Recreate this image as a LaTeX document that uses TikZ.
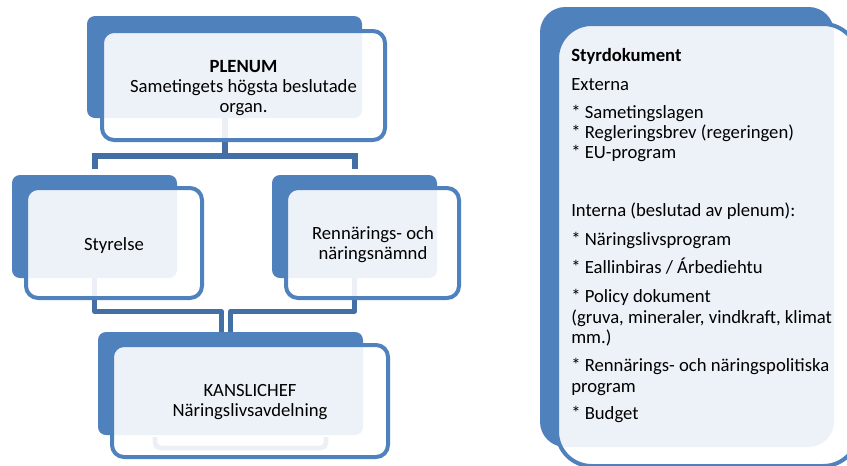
\documentclass[tikz,border=0pt]{standalone}
\usepackage{fontspec}
\setmainfont{Carlito}
\usetikzlibrary{fit}
\definecolor{boxblue}{RGB}{79,129,189}
\definecolor{connblue}{RGB}{68,111,165}
\begin{document}
\begin{tikzpicture}[x=0.75pt,y=-0.75pt,
  backbox/.style={fill=boxblue, draw=none, rounded corners=6pt, inner sep=0pt},
  frontbox/.style={fill=white, fill opacity=0.9, text opacity=1, draw=boxblue, draw opacity=1, line width=3pt, rounded corners=9pt, inner sep=0pt},
  boxtext/.style={font=\fontsize{14}{15}\selectfont, align=center, text=black, inner sep=0pt},
  listtext/.style={font=\fontsize{14}{15}\selectfont, anchor=base west, text=black, inner sep=0pt},
  connA/.style={draw=connblue, line width=4.5pt},
  connB/.style={draw=connblue, line width=3.6pt},
]
\clip (0,0) rectangle (847,465);
\fill[white] (0,0) rectangle (847,465);

% back boxes
\node[backbox, fit={(87,16) (362,118)}] (pb) {};
\node[backbox, fit={(12,175) (177,278)}] (sb) {};
\node[backbox, fit={(272,175) (437,278)}] (rb) {};
\node[backbox, fit={(98,332) (363,435)}] (kb) {};
\node[backbox, rounded corners=19pt, fit={(540,7) (834,447)}] (db) {};

% connectors
\draw[connA] (pb.south) -- ++(0,38);
\draw[connA] ([yshift=4pt]sb.north) -- ++(0,-13.7) -| ([yshift=4pt]rb.north);
\draw[connB, line join=round] (sb.south) -- ++(0,33) -| ([xshift=-7pt]kb.north);
\draw[connB, line join=round] (rb.south) -- ++(0,33) -| (kb.north);
\coordinate (kbl) at (155,437);
\coordinate (kbr) at (326,437);
\draw[connB, rounded corners=4pt] (kbl) -- ++(0,11) -| (kbr);

% front boxes
\node[frontbox, fit={(102,31) (385,140)}] (pf) {};
\node[frontbox, fit={(26,188) (202,298)}] (sf) {};
\node[frontbox, fit={(286,188) (459,298)}] (rf) {};
\node[frontbox, fit={(112,345) (388,457)}] (kf) {};
\node[frontbox, rounded corners=26pt, fit={(557,24) (858,466)}] (df) {};

% box texts
\node[boxtext] (pt) at (243.5,88) {\textbf{PLENUM}\\Sametingets högsta beslutade\\organ.};
\node[boxtext] (st) at (114,246) {Styrelse};
\node[boxtext] (rt) at (373,245) {Rennärings- och\\näringsnämnd};
\node[boxtext] (kt) at (250,402) {KANSLICHEF\\Näringslivsavdelning};

% list texts
\node[listtext] (l1) at (571,61) {\textbf{Styrdokument}};
\node[listtext] (l2) at (571,90.5) {Externa};
\node[listtext] (l3) at (571,118) {* Sametingslagen};
\node[listtext] (l4) at (571,138) {* Regleringsbrev (regeringen)};
\node[listtext] (l5) at (571,158) {* EU-program};
\node[listtext] (l6) at (571,216) {Interna (beslutad av plenum):};
\node[listtext] (l7) at (571,245) {* Näringslivsprogram};
\node[listtext] (l8) at (571,273) {* Eallinbiras / Árbediehtu};
\node[listtext] (l9) at (571,302) {* Policy dokument};
\node[listtext] (l10) at (571,323) {(gruva, mineraler, vindkraft, klimat};
\node[listtext] (l11) at (571,343) {mm.)};
\node[listtext] (l12) at (571,371) {* Rennärings- och näringspolitiska};
\node[listtext] (l13) at (571,392) {program};
\node[listtext] (l14) at (571,419) {* Budget};
\end{tikzpicture}
\end{document}
